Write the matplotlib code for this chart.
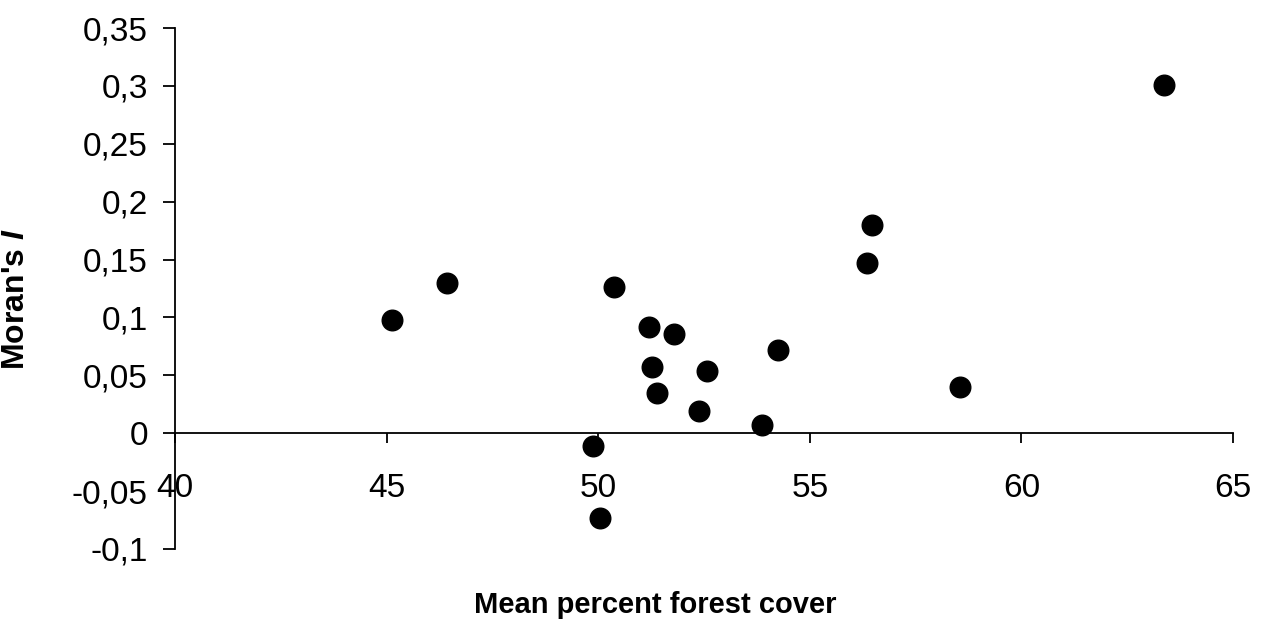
import matplotlib.pyplot as plt
import numpy as np

# Mean percent forest cover vs Moran's I
forest_cover = [63.36, 45.13, 46.43, 50.38, 49.88, 50.05, 51.20, 51.28, 51.40,
                51.80, 52.39, 52.58, 53.88, 54.26, 56.34, 56.48, 58.56]
morans_i = [0.301, 0.098, 0.130, 0.126, -0.011, -0.073, 0.092, 0.057, 0.035,
            0.086, 0.019, 0.054, 0.007, 0.072, 0.147, 0.180, 0.040]

x_ticks = [40, 45, 50, 55, 60, 65]
y_ticks = [-0.1, -0.05, 0, 0.05, 0.1, 0.15, 0.2, 0.25, 0.3, 0.35]

plt.rcParams['font.family'] = 'Liberation Sans'
plt.rcParams['mathtext.fontset'] = 'custom'
plt.rcParams['mathtext.it'] = 'Liberation Sans:bold:italic'

fig = plt.figure(figsize=(12.61, 6.28), dpi=100)
ax = fig.add_axes([0.1388, 0.1258, 0.839, 0.8296])

ax.scatter(forest_cover, morans_i, s=220, color='black', zorder=3)

ax.set_xlim(40, 65)
ax.set_ylim(-0.1, 0.35)
ax.set_xticks(x_ticks)
ax.set_yticks(y_ticks)
ax.set_xticklabels([str(t) for t in x_ticks])
ax.set_yticklabels([('%g' % t).replace('.', ',') for t in y_ticks])

ax.spines['top'].set_visible(False)
ax.spines['right'].set_visible(False)
ax.spines['bottom'].set_position(('data', 0))
ax.spines['left'].set_linewidth(1.3)
ax.spines['bottom'].set_linewidth(1.3)

ax.tick_params(axis='y', direction='out', length=8.5, width=1.3, pad=11, labelsize=24)
ax.tick_params(axis='x', direction='out', length=7.5, width=1.3, pad=21, labelsize=24)

ax.set_ylabel("Moran's $\\it{I}$", fontsize=23, fontweight='bold')
ax.yaxis.set_label_coords(-0.136, 0.48)
ax.text(0.454, -0.107, 'Mean percent forest cover', transform=ax.transAxes,
        ha='center', va='center', fontsize=21, fontweight='bold')

fig.savefig('out.png', dpi=100)
